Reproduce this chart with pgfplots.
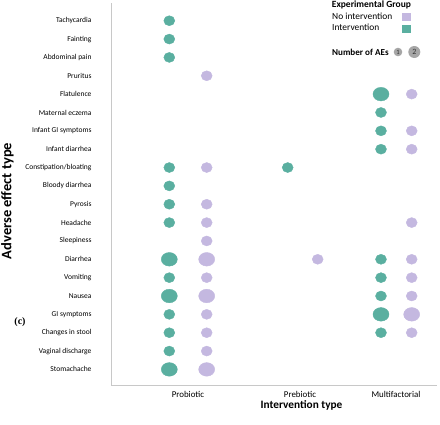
\documentclass[border=0pt]{standalone}
\usepackage{fontspec}
\setmainfont{Carlito}
\newfontfamily\seriffont{Liberation Serif}
\usepackage{pgfplots}
\pgfplotsset{compat=1.18}
\definecolor{tealc}{HTML}{5AAFA0}
\definecolor{lavc}{HTML}{C4B8E0}
\definecolor{axgray}{HTML}{C8C8C8}
\definecolor{aegray}{HTML}{A6A6A6}
\begin{document}
\begin{tikzpicture}[x=1pt,y=1pt]
\begin{axis}[at={(111pt,-385pt)}, anchor=south west, scale only axis,
  width=326pt, height=382pt,
  xmin=111, xmax=437, ymin=0.035, ymax=20.85, y dir=reverse,
  axis lines*=left, axis line style={axgray, line width=0.7pt},
  major tick length=0pt,
  xtick={188,300,396}, xticklabels={Probiotic,Prebiotic,Multifactorial},
  ytick={1,...,20},
  yticklabels={Tachycardia,Fainting,Abdominal pain,Pruritus,Flatulence,Maternal eczema,Infant GI symptoms,Infant diarrhea,Constipation/bloating,Bloody diarrhea,Pyrosis,Headache,Sleepiness,Diarrhea,Vomiting,Nausea,GI symptoms,Changes in stool,Vaginal discharge,Stomachache},
  xticklabel style={font=\fontsize{8.9}{10}\selectfont, yshift=-2.5pt},
  yticklabel style={font=\fontsize{7.5}{8.5}\selectfont, xshift=-16pt},
  clip=false,
]
% Intervention, 1 AE
\addplot[only marks, mark=*, color=tealc, mark size=5pt, mark options={xscale=1.1}] coordinates {
 (169.3,1) (169.3,2) (169.3,3) (169.3,9) (169.3,10) (169.3,11) (169.3,12) (169.3,15) (169.3,17) (169.3,18) (169.3,19)
 (287.7,9)
 (381,6) (381,7) (381,8) (381,14) (381,15) (381,16) (381,18)
};
% Intervention, 2 AEs
\addplot[only marks, mark=*, color=tealc, mark size=6.8pt, mark options={xscale=1.18}] coordinates {
 (169.3,14) (169.3,16) (169.3,20)
 (381,5) (381,17)
};
% No intervention, 1 AE
\addplot[only marks, mark=*, color=lavc, mark size=5pt, mark options={xscale=1.1}] coordinates {
 (206.7,4) (206.7,9) (206.7,11) (206.7,12) (206.7,13) (206.7,15) (206.7,17) (206.7,18) (206.7,19)
 (317.7,14)
 (411.7,5) (411.7,7) (411.7,8) (411.7,12) (411.7,14) (411.7,15) (411.7,16) (411.7,18)
};
% No intervention, 2 AEs
\addplot[only marks, mark=*, color=lavc, mark size=6.8pt, mark options={xscale=1.18}] coordinates {
 (206.7,14) (206.7,16) (206.7,20)
 (411.7,17)
};
\end{axis}
% axis titles
\node[rotate=90, inner sep=0, font=\fontsize{14.5}{16}\selectfont\bfseries] at (7.5,-201) {Adverse effect type};
\node[inner sep=0, font=\fontsize{11.3}{13}\selectfont\bfseries] at (301.5,-405.5) {Intervention type};
\node[inner sep=0, font=\seriffont\fontsize{10}{12}\selectfont\bfseries] at (20,-322) {(c)};
% legend
\node[anchor=west, inner sep=0, font=\fontsize{9.5}{11}\selectfont\bfseries] at (331.7,-5) {Experimental Group};
\node[anchor=west, inner sep=0, font=\fontsize{9.4}{11}\selectfont] at (332,-16) {No intervention};
\fill[lavc] (402,-12.5) rectangle (411,-20.7);
\node[anchor=west, inner sep=0, font=\fontsize{9.4}{11}\selectfont] at (332,-27.5) {Intervention};
\fill[tealc] (402,-24.5) rectangle (411,-33);
\node[anchor=west, inner sep=0, font=\fontsize{9.1}{11}\selectfont\bfseries] at (332,-52) {Number of AEs};
\fill[aegray] (398,-52) circle (4.3);
\node[inner sep=0, font=\fontsize{6.5}{7}\selectfont\color{black!80}] at (398,-52) {1};
\fill[aegray] (414.3,-52) circle (6);
\node[inner sep=0, font=\fontsize{8}{9}\selectfont\color{black!80}] at (414.3,-52) {2};
\pgfresetboundingbox
\path[use as bounding box] (0,0) rectangle (440,-424);
\end{tikzpicture}
\end{document}
